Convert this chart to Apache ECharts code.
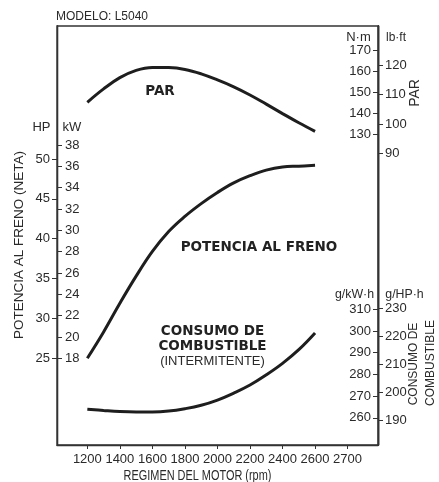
<!DOCTYPE html>
<html>
<head>
<meta charset="utf-8">
<script src="https://cdn.jsdelivr.net/npm/echarts@6/dist/echarts.min.js"></script>
<style>
html,body{margin:0;padding:0;background:#fff;}
#chart{width:439px;height:482px;}
</style>
</head>
<body>
<div id="chart"></div>
<script>
// ---- data ----
const rpm        = [1200,1300,1400,1500,1600,1700,1800,1900,2000,2100,2200,2300,2400,2500,2600];
const torqueNm   = [145.3,151.7,157.1,160.6,162.0,161.9,161.0,158.9,156.0,152.7,148.8,144.4,139.9,135.5,131.4];
const powerHP    = [25.0,28.3,31.9,35.3,38.4,40.9,42.8,44.4,45.8,47.0,47.9,48.6,49.0,49.1,49.2];
const fuelGkWh   = [264.0,263.4,262.9,262.7,262.7,263.1,264.2,265.8,268.2,271.4,275.1,279.8,285.1,291.4,299.1];

const xTickValues = [1200,1400,1600,1800,2000,2200,2400,2600,2800];
const xTickLabels = ['1200','1400','1600','1800','2000','2200','2400','2600','2700'];
const hpTicks   = [25,30,35,40,45,50];
const kwTicks   = [18,20,22,24,26,28,30,32,34,36,38];
const nmTicks   = [130,140,150,160,170];
const lbftTicks = [90,100,110,120];
const gkwhTicks = [260,270,280,290,300,310];
const ghphTicks = [190,200,210,220,230];

// ---- chart ----
const FONT = '"Liberation Sans", Arial, sans-serif';
const TXT = '#2a2a2a';
const LINE = '#1e1e1e';
const lbl = {color: TXT, fontSize: 13, fontFamily: FONT};

function yAx(pos, min, max, ticks, inside, margin) {
  return {
    type: 'value', position: pos, min: min, max: max, offset: 0,
    splitLine: {show: false},
    axisLine: {show: true, onZero: false, lineStyle: {color: '#333', width: 1.3}},
    axisTick: {show: true, inside: inside, length: 5, customValues: ticks, lineStyle: {color: '#333', width: 1}},
    axisLabel: Object.assign({inside: inside, margin: margin, customValues: ticks}, lbl)
  };
}

const chart = echarts.init(document.getElementById('chart'), null, {renderer: 'canvas'});
const pair = (arr) => rpm.map((r, i) => [r, arr[i]]);

const option = {
  animation: false,
  backgroundColor: '#fff',
  grid: {left: 57, right: 61, top: 26, bottom: 37, show: true, borderColor: '#333', borderWidth: 1.3, backgroundColor: 'transparent'},
  xAxis: {
    type: 'value', min: 1013.5, max: 2987,
    splitLine: {show: false},
    axisLine: {show: true, onZero: false, lineStyle: {color: '#333', width: 1.3}},
    axisTick: {show: true, length: 4, customValues: xTickValues, lineStyle: {color: '#333'}},
    axisLabel: Object.assign({margin: 8, customValues: xTickValues,
      formatter: (v) => { const i = xTickValues.indexOf(v); return i >= 0 ? xTickLabels[i] : ''; }}, lbl)
  },
  yAxis: [
    yAx('left', 14.12, 66.68, hpTicks, false, 7),
    yAx('left', 9.87, 49.16, kwTicks, true, 8),
    yAx('right', -18.66, 181.8, nmTicks, true, 7),
    yAx('right', -9.46, 133.4, lbftTicks, false, 7),
    yAx('right', 247.5, 440.4, gkwhTicks, true, 7),
    yAx('right', 181.1, 331.3, ghphTicks, false, 7)
  ],
  series: [
    {type: 'line', name: 'POTENCIA', yAxisIndex: 0, data: pair(powerHP), smooth: 0.4, showSymbol: false, lineStyle: {color: LINE, width: 3, cap: 'butt'}},
    {type: 'line', name: 'PAR', yAxisIndex: 2, data: pair(torqueNm), smooth: 0.4, showSymbol: false, lineStyle: {color: LINE, width: 3, cap: 'butt'}},
    {type: 'line', name: 'CONSUMO', yAxisIndex: 4, data: pair(fuelGkWh), smooth: 0.4, showSymbol: false, lineStyle: {color: LINE, width: 3, cap: 'butt'}}
  ],
  graphic: [
    {type: 'text', x: 56, y: 17, style: {text: 'MODELO: L5040', font: '12px ' + FONT, fill: TXT, align: 'left', verticalAlign: 'middle'}},
    {type: 'text', x: 41.5, y: 127, style: {text: 'HP', font: '13px ' + FONT, fill: TXT, align: 'center', verticalAlign: 'middle'}},
    {type: 'text', x: 72, y: 127, style: {text: 'kW', font: '13px ' + FONT, fill: TXT, align: 'center', verticalAlign: 'middle'}},
    {type: 'text', x: 358.5, y: 37, style: {text: 'N·m', font: '13px ' + FONT, fill: TXT, align: 'center', verticalAlign: 'middle'}},
    {type: 'text', x: 396, y: 37, scaleX: 0.92, style: {text: 'lb·ft', font: '13px ' + FONT, fill: TXT, align: 'center', verticalAlign: 'middle'}},
    {type: 'text', x: 354.5, y: 294, scaleX: 0.95, style: {text: 'g/kW·h', font: '13px ' + FONT, fill: TXT, align: 'center', verticalAlign: 'middle'}},
    {type: 'text', x: 404.5, y: 294, scaleX: 0.95, style: {text: 'g/HP·h', font: '13px ' + FONT, fill: TXT, align: 'center', verticalAlign: 'middle'}},
    {type: 'text', x: 19, y: 245, rotation: Math.PI / 2, style: {text: 'POTENCIA AL FRENO (NETA)', font: '13.5px ' + FONT, fill: TXT, align: 'center', verticalAlign: 'middle'}},
    {type: 'text', x: 415, y: 93, rotation: Math.PI / 2, style: {text: 'PAR', font: '14px ' + FONT, fill: TXT, align: 'center', verticalAlign: 'middle'}},
    {type: 'text', x: 414, y: 364, rotation: Math.PI / 2, style: {text: 'CONSUMO DE', font: '12px ' + FONT, fill: TXT, align: 'center', verticalAlign: 'middle'}},
    {type: 'text', x: 431, y: 363, rotation: Math.PI / 2, style: {text: 'COMBUSTIBLE', font: '12px ' + FONT, fill: TXT, align: 'center', verticalAlign: 'middle'}},
    {type: 'text', x: 197.5, y: 476, scaleX: 0.78, style: {text: 'REGIMEN DEL MOTOR (rpm)', font: '14px ' + FONT, fill: TXT, align: 'center', verticalAlign: 'middle'}},
    {type: 'text', x: 160, y: 91, style: {text: 'PAR', font: 'bold 13.5px "DejaVu Sans", sans-serif', fill: '#222', align: 'center', verticalAlign: 'middle'}},
    {type: 'text', x: 259, y: 247, style: {text: 'POTENCIA AL FRENO', font: 'bold 13.5px "DejaVu Sans", sans-serif', fill: '#222', align: 'center', verticalAlign: 'middle'}},
    {type: 'text', x: 212.5, y: 331, style: {text: 'CONSUMO DE', font: 'bold 13.5px "DejaVu Sans", sans-serif', fill: '#222', align: 'center', verticalAlign: 'middle'}},
    {type: 'text', x: 212.5, y: 346, style: {text: 'COMBUSTIBLE', font: 'bold 13.5px "DejaVu Sans", sans-serif', fill: '#222', align: 'center', verticalAlign: 'middle'}},
    {type: 'text', x: 212.5, y: 361, style: {text: '(INTERMITENTE)', font: '13px ' + FONT, fill: TXT, align: 'center', verticalAlign: 'middle'}}
  ]
};
chart.setOption(option);
</script>
</body>
</html>
